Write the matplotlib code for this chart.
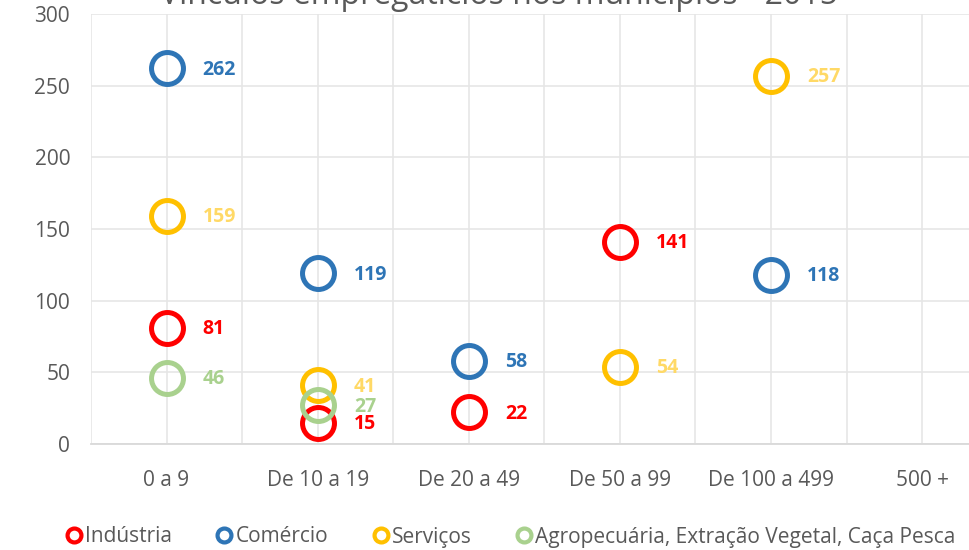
import numpy as np
import matplotlib
matplotlib.use("Agg")
import matplotlib.pyplot as plt
from matplotlib.lines import Line2D

categories = ["0 a 9", "De 10 a 19", "De 20 a 49", "De 50 a 99", "De 100 a 499", "500 +"]
series = ["Indústria", "Comércio", "Serviços", "Agropecuária, Extração Vegetal, Caça Pesca"]
industria = [81, 15, 22, 141, None, None]
comercio = [262, 119, 58, None, 118, None]
servicos = [159, 41, None, 54, 257, None]
agro = [46, 27, None, None, None, None]
values = [industria, comercio, servicos, agro]
colors = ["#FF0000", "#2E75B6", "#FFC000", "#A9D18E"]
label_colors = ["#FF0000", "#2E75B6", "#FFD966", "#A9D18E"]
title = "Vínculos empregatícios nos municípios - 2015"

plt.rcParams.update({"font.family": ["Open Sans", "DejaVu Sans"]})
fig = plt.figure(figsize=(9.69, 5.5), dpi=100)
ax = fig.add_axes([91 / 969, 1 - 444 / 550, 1 - 91 / 969, 430 / 550])
ax.set_zorder(1)

xs = np.arange(1, len(categories) + 1)
for vals, c, lc in zip(values, colors, label_colors):
    for x, v in zip(xs, vals):
        if v is None:
            continue
        ax.plot(x, v, "o", ms=23, mfc="none", mec=c, mew=3.6, zorder=3, clip_on=False)
        ax.annotate(str(v), (x, v), xytext=(26, -1), textcoords="offset points",
                    va="center", ha="left", color=lc, fontsize=14, fontweight="bold")

# vertical gridlines sit halfway between categories
for gx in np.arange(0.5, 7, 0.5):
    ax.axvline(gx, color="#E6E6E6", lw=1.2, zorder=0)
ax.set_xticks(xs)
ax.set_xticklabels(categories)
ax.set_yticks(np.arange(0, 301, 50))
ax.set_xlim(0.5, 6.31)
ax.set_ylim(0, 300)
ax.grid(True, axis="y", color="#E6E6E6", lw=1.2)
ax.tick_params(length=0, labelsize=15, labelcolor="#595959")
ax.tick_params(axis="x", pad=19)
ax.tick_params(axis="y", pad=15)
for s in ["top", "right", "left"]:
    ax.spines[s].set_visible(False)
ax.spines["bottom"].set_color("#D9D9D9")
ax.spines["bottom"].set_linewidth(1.3)

handles = [Line2D([], [], marker="o", ls="none", ms=10, mfc="none", mec=c, mew=3) for c in colors]
fig.legend(handles, series, loc="center", bbox_to_anchor=(0.527, 1 - 537 / 550), ncol=4,
           frameon=False, fontsize=15, handletextpad=0.15, columnspacing=2.1,
           labelcolor="#595959", handlelength=0.8)

fig.text(0.515, 1 - 4 / 550, title, ha="center", va="baseline", fontsize=23, color="#595959")
fig.savefig("out.png", dpi=100)
